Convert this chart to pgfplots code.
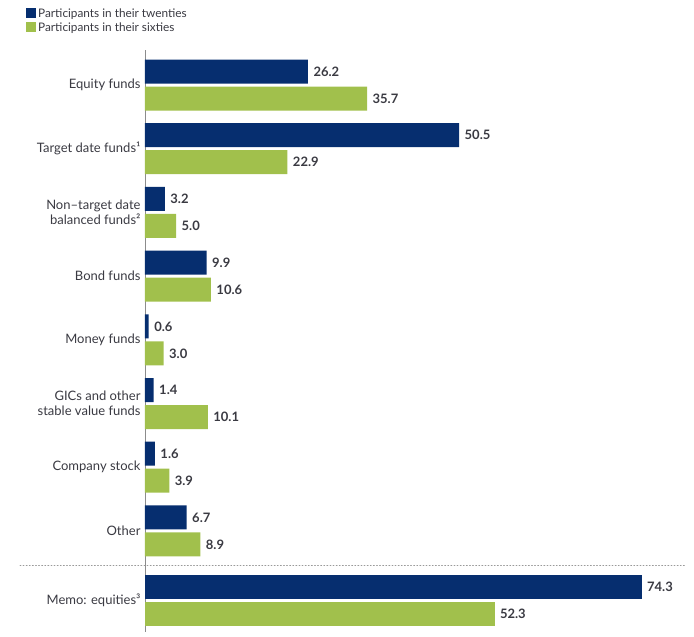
\documentclass[border=0pt]{standalone}
\usepackage{pgfplots}
\pgfplotsset{compat=1.18}
\usepackage{fontspec}
\setmainfont{Lato}
\definecolor{navy}{HTML}{062E6F}
\definecolor{lgreen}{HTML}{A1C04C}
\definecolor{txt}{HTML}{3A3A42}
\pgfplotstableread{
idx twenties sixties
0 26.2 35.7
1 50.5 22.9
2 3.2 5.0
3 9.9 10.6
4 0.6 3.0
5 1.4 10.1
6 1.6 3.9
7 6.7 8.9
}\maintable
\pgfplotstableread{
idx twenties sixties
0 74.3 52.3
}\memotable
\begin{document}
\begin{tikzpicture}
\useasboundingbox (0,0) rectangle (694pt,-637pt);
\pgfplotsset{
  mybars/.style={
    xbar, scale only axis, width=540pt, y dir=reverse,
    xmin=0, axis x line=none, axis y line*=left,
    axis line style={black!45, line width=0.8pt},
    major tick length=0pt,
    yticklabel style={align=right, font=\fontsize{13}{15}\selectfont, text=txt, xshift=-1pt},
    bar width=24pt,
    nodes near coords={\pgfmathprintnumber[fixed,fixed zerofill,precision=1]{\pgfplotspointmeta}},
    nodes near coords style={font=\bfseries\fontsize{13}{14}\selectfont, text=txt, anchor=west, xshift=2pt},
    /pgf/number format/assume math mode=true,
    clip=false,
  }
}
\begin{axis}[mybars, at={(145pt,-50pt)}, anchor=north west, height=515pt,
  xmax=86.8, ymin=-0.55, ymax=7.535,
  ytick={0,...,7},
  yticklabels={{Equity funds},{Target date funds¹},{Non–target date\\balanced funds²},{Bond funds},{Money funds},{GICs and other\\stable value funds},{Company stock},{Other}},
  legend style={at={(-0.2204,1.0843)}, anchor=north west, draw=none, fill=none,
    font=\fontsize{11.8}{13}\selectfont, text=txt, row sep=0pt, inner sep=0pt, cells={anchor=west}},
  legend image code/.code={\fill[#1] (0pt,-4pt) rectangle (10pt,6pt);},
]
\addplot[fill=navy, draw=none, bar shift=13.5pt] table[x=twenties, y=idx] {\maintable};
\addplot[fill=lgreen, draw=none, bar shift=-13.5pt] table[x=sixties, y=idx] {\maintable};
\legend{Participants in their twenties, Participants in their sixties}
\end{axis}
\begin{axis}[mybars, at={(145pt,-565pt)}, anchor=north west, height=67pt,
  xmax=80.8, ymin=-0.55, ymax=0.5,
  ytick={0}, yticklabels={{Memo: equities³}},
]
\addplot[fill=navy, draw=none, bar shift=13.5pt] table[x=twenties, y=idx] {\memotable};
\addplot[fill=lgreen, draw=none, bar shift=-13.5pt] table[x=sixties, y=idx] {\memotable};
\end{axis}
\draw[black!40, line width=0.9pt, dash pattern=on 0.9pt off 2.2pt, line cap=round] (20pt,-565pt) -- (686pt,-565pt);
\end{tikzpicture}
\end{document}
